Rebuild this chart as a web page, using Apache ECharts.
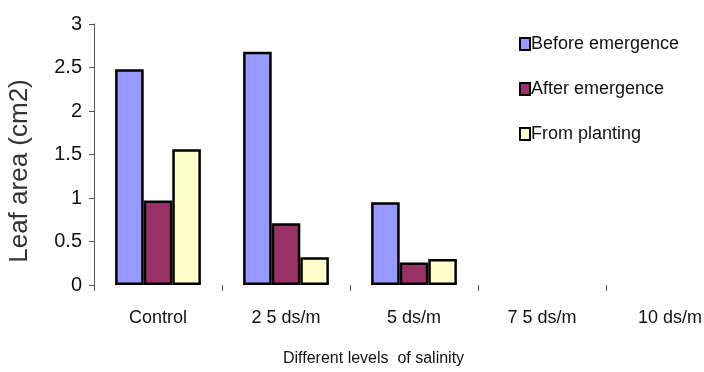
<!DOCTYPE html>
<html><head><meta charset="utf-8">
<script src="https://cdn.jsdelivr.net/npm/echarts@6/dist/echarts.min.js"></script>
<style>html,body{margin:0;padding:0;background:#fff}#c{width:704px;height:372px}</style>
</head><body><div id="c"></div>
<script>
const categories = ['Control', '2 5 ds/m', '5 ds/m', '7 5 ds/m', '10 ds/m'];
const beforeEmergence = [2.48, 2.68, 0.95, null, null];
const afterEmergence = [0.97, 0.71, 0.26, null, null];
const fromPlanting = [1.56, 0.32, 0.30, null, null];
const yTicks = [0, 0.5, 1, 1.5, 2, 2.5, 3];
const seriesNames = ['Before emergence', 'After emergence', 'From planting'];
const yAxisTitle = 'Leaf area (cm2)';
const xAxisTitle = 'Different levels  of salinity';

const F = '"Liberation Sans", Arial, sans-serif';
const chart = echarts.init(document.getElementById('c'));
const mk = (name, data, color) => ({
  name, type: 'bar', data, barGap: 0, barCategoryGap: '33%',
  itemStyle: { color, borderColor: '#000', borderWidth: 2.5 }
});
chart.setOption({
  animation: false,
  grid: { left: 94, top: 24, width: 640, height: 261, containLabel: false, outerBoundsMode: 'none' },
  legend: {
    orient: 'vertical', left: 514, top: 30, itemWidth: 10, itemHeight: 12, itemGap: 27,
    icon: 'rect',
    textStyle: { fontFamily: F, fontSize: 18, color: '#111', padding: [0, 0, 0, -4] },
    data: seriesNames.map(n => ({ name: n, itemStyle: { borderColor: '#000', borderWidth: 2 } }))
  },
  xAxis: {
    type: 'category', data: categories,
    axisLine: { show: false },
    axisTick: { show: true, alignWithLabel: false, length: 6, lineStyle: { color: '#555' } },
    axisLabel: { fontFamily: F, fontSize: 18, color: '#111', margin: 24 }
  },
  yAxis: {
    type: 'value', min: 0, max: 3, interval: 0.5,
    axisLine: { show: true, lineStyle: { color: '#555', width: 1 } },
    axisTick: { show: true, length: 5, lineStyle: { color: '#555' } },
    splitLine: { show: false },
    axisLabel: { fontFamily: F, fontSize: 20, color: '#111', margin: 12,
      formatter: v => yTicks.includes(v) ? String(v) : '' }
  },
  graphic: [{
    type: 'text', left: 283, top: 351,
    style: { text: xAxisTitle, font: '16px "Liberation Sans", Arial, sans-serif', fill: '#111' }
  }, {
    type: 'text', x: 20, y: 171, rotation: Math.PI / 2,
    style: { text: yAxisTitle, font: '26px "Liberation Sans", Arial, sans-serif', fill: '#333',
      align: 'center', verticalAlign: 'middle' }
  }],
  series: [
    mk(seriesNames[0], beforeEmergence, '#9999FF'),
    mk(seriesNames[1], afterEmergence, '#993366'),
    mk(seriesNames[2], fromPlanting, '#FFFFCC')
  ]
});
</script></body></html>
